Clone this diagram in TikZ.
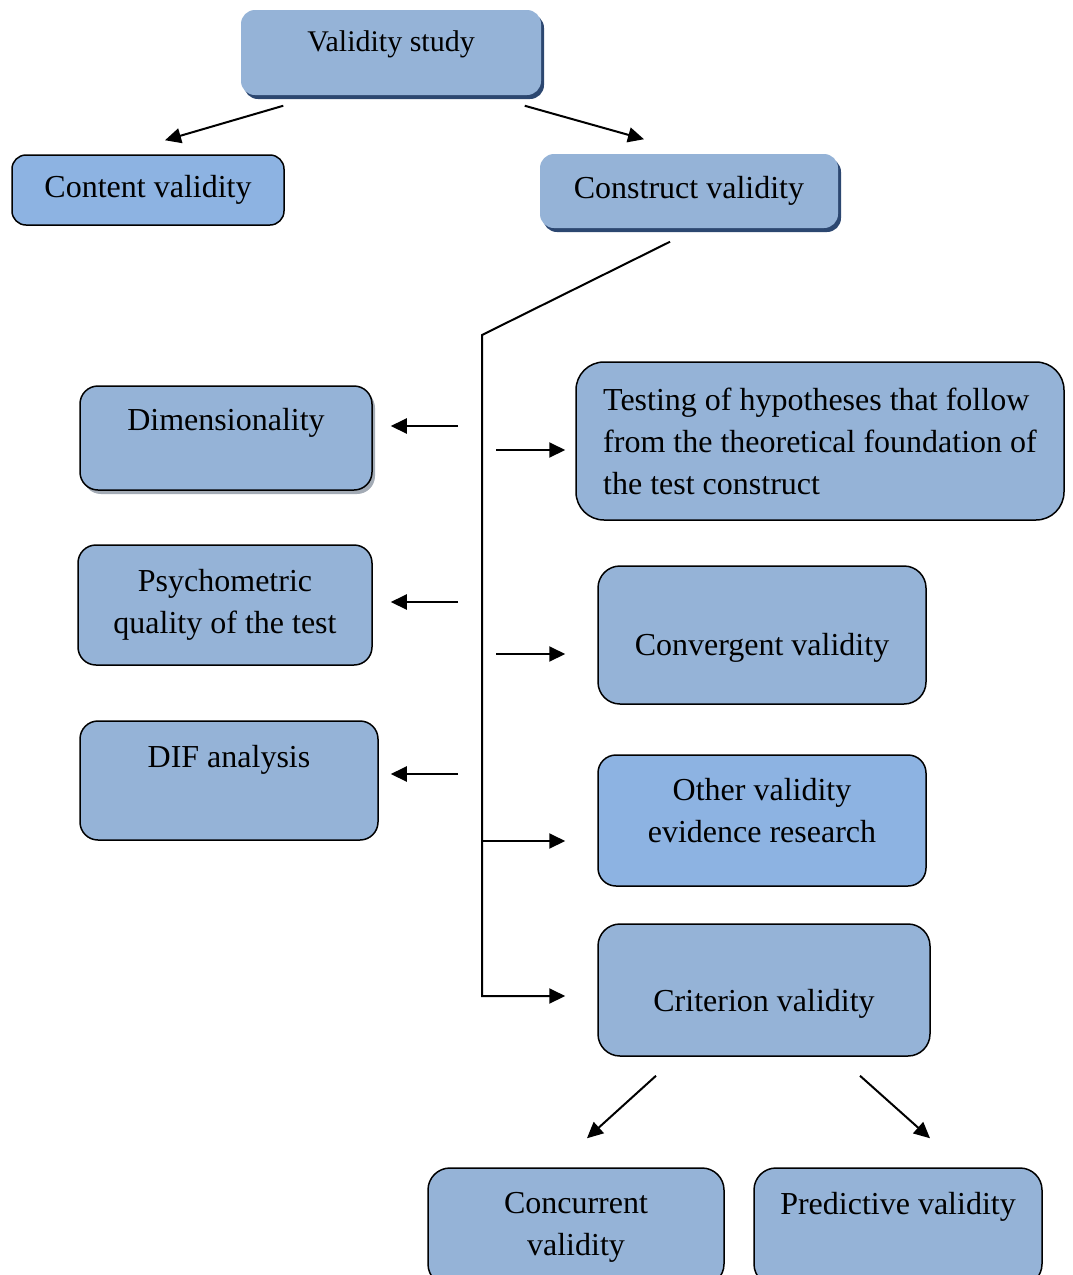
\documentclass[tikz,border=0pt]{standalone}
\usepackage{fontspec}
\setmainfont{Liberation Serif}
\usetikzlibrary{arrows.meta,shadows}

\definecolor{boxblue}{HTML}{95B3D7}
\definecolor{boxbluetwo}{HTML}{8DB3E2}
\definecolor{shadowblue}{HTML}{2C4770}
\definecolor{shadowgray}{HTML}{A3ABB5}

\begin{document}
\begin{tikzpicture}[x=1pt, y=-1pt,
    box/.style={rounded corners=18pt, draw=black, line width=1.5pt, fill=boxblue,
        inner sep=0pt, align=center, font=\fontsize{32}{42}\selectfont},
    topbox/.style={box, draw=none, rounded corners=14pt,
        drop shadow={shadow xshift=3pt, shadow yshift=-4pt, fill=shadowblue, opacity=1}},
    arr/.style={line width=2pt, -{Triangle[length=16pt,width=15pt]}},
    trunk/.style={line width=2pt}]
    \path[use as bounding box, clip] (0,0) rectangle (1072,1275);

    % Cajas de arriba
    \node[topbox, font=\fontsize{30}{40}\selectfont, minimum width=300pt, minimum height=85pt,
        text height=41pt, text depth=44pt] (study) at (391,52.5) {Validity study};
    \node[box, rounded corners=14pt, fill=boxbluetwo, minimum width=272pt, minimum height=70pt]
        (content) at (148,190) {Content validity};
    \node[topbox, minimum width=298pt, minimum height=74pt] (construct) at (689,191) {Construct validity};

    % Cajas de la izquierda
    \node[box, minimum width=292pt, minimum height=104pt, text height=44pt, text depth=60pt,
        drop shadow={shadow xshift=3pt, shadow yshift=-4pt, fill=shadowgray, opacity=1}]
        (dim) at (226,438) {Dimensionality};
    \node[box, minimum width=294pt, minimum height=120pt] (psy) at (225,605) {Psychometric\\quality of the test};
    \node[box, minimum width=298pt, minimum height=119pt, text height=46pt, text depth=73pt]
        (dif) at (229,780.5) {DIF analysis};

    % Cajas de la derecha
    \node[box, rounded corners=28pt, align=left, minimum width=488pt, minimum height=158pt]
        (test) at (820,441) {Testing of hypotheses that follow\\from the theoretical foundation of\\the test construct};
    \node[box, rounded corners=22pt, minimum width=328pt, minimum height=138pt, text height=89pt, text depth=49pt]
        (conv) at (762,635) {Convergent validity};
    \node[box, fill=boxbluetwo, minimum width=328pt, minimum height=131pt, text height=87pt, text depth=44pt]
        (other) at (762,820.5) {Other validity\\evidence research};
    \node[box, rounded corners=22pt, minimum width=332pt, minimum height=132pt, text height=87pt, text depth=45pt]
        (crit) at (764,990) {Criterion validity};

    % Cajas de abajo
    \node[box, rounded corners=22pt, minimum width=296pt, minimum height=118pt] (conc) at (576,1227) {Concurrent\\validity};
    \node[box, rounded corners=22pt, minimum width=288pt, minimum height=118pt, text height=46pt, text depth=72pt]
        (pred) at (898,1227) {Predictive validity};

    % Flechas de arriba
    \draw[arr] ([xshift=43pt,yshift=-10pt]study.south west) -- ([xshift=17pt,yshift=14pt]content.north);
    \draw[arr] ([xshift=-17pt,yshift=-10pt]study.south east) -- ([xshift=-45pt,yshift=14pt]construct.north);

    % Tronco
    \coordinate (bend) at (482,335);
    \coordinate (trunk end) at (482,996);
    \coordinate (branch) at (482,841);
    \draw[arr, shorten >=32pt] ([xshift=-19pt,yshift=-13pt]construct.south) -- (bend) -- (trunk end)
        -- (trunk end -| crit.west);
    \draw[arr, shorten >=32pt] (branch) -- (branch -| other.west);

    % Flechas sueltas
    \coordinate (dimA) at (458,426);
    \coordinate (psyA) at (458,602);
    \coordinate (difA) at (458,774);
    \coordinate (testA) at (496,450);
    \coordinate (convA) at (496,654);
    \draw[arr, shorten >=18pt] (dimA) -- (dimA -| dim.east);
    \draw[arr, shorten >=18pt] (psyA) -- (psyA -| psy.east);
    \draw[arr, shorten >=12pt] (difA) -- (difA -| dif.east);
    \draw[arr, shorten >=10pt] (testA) -- (testA -| test.west);
    \draw[arr, shorten >=32pt] (convA) -- (convA -| conv.west);

    % Flechas de abajo
    \draw[arr] ([xshift=-108pt,yshift=-19pt]crit.south) -- ([xshift=11pt,yshift=29pt]conc.north);
    \draw[arr] ([xshift=96pt,yshift=-19pt]crit.south) -- ([xshift=32pt,yshift=29pt]pred.north);
\end{tikzpicture}
\end{document}
